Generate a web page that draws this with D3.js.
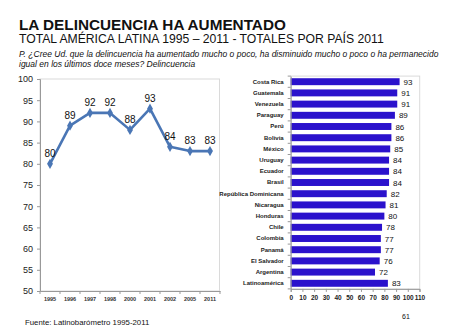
<!DOCTYPE html>
<html>
<head>
<meta charset="utf-8">
<script src="https://cdn.jsdelivr.net/npm/d3@7"></script>
<style>
  body { margin: 0; background: #fff; }
  svg { font-family: "Liberation Sans", Arial, sans-serif; }
</style>
</head>
<body>
<svg id="chart" width="460" height="330"></svg>
<script>
// trend 1995-2011
const years = ['1995', '1996', '1997', '1998', '2000', '2001', '2002', '2005', '2011'];
const totals = [80, 89, 92, 92, 88, 93, 84, 83, 83];
const yTicks = [50, 55, 60, 65, 70, 75, 80, 85, 90, 95, 100];

// countries 2011
const countries = ['Costa Rica', 'Guatemala', 'Venezuela', 'Paraguay', 'Perú', 'Bolivia', 'México',
  'Uruguay', 'Ecuador', 'Brasil', 'República Dominicana', 'Nicaragua', 'Honduras', 'Chile',
  'Colombia', 'Panamá', 'El Salvador', 'Argentina', 'Latinoamérica'];
const countryValues = [93, 91, 91, 89, 86, 86, 85, 84, 84, 84, 82, 81, 80, 78, 77, 77, 76, 72, 83];
const barTicks = [0, 10, 20, 30, 40, 50, 60, 70, 80, 90, 100, 110];

const svg = d3.select('#chart');

// titles
svg.append('text').attr('x', 19).attr('y', 29.5)
  .attr('font-size', 15.3).attr('font-weight', 'bold').attr('fill', '#111')
  .text('LA DELINCUENCIA HA AUMENTADO');
svg.append('text').attr('x', 19).attr('y', 42.5)
  .attr('font-size', 12.2).attr('fill', '#111')
  .text('TOTAL AMÉRICA LATINA 1995 – 2011 - TOTALES POR PAÍS 2011');
const q = svg.append('text').attr('font-size', 8.5).attr('font-style', 'italic').attr('fill', '#111');
q.append('tspan').attr('x', 19).attr('y', 56.5)
  .text('P. ¿Cree Ud. que la delincuencia ha aumentado mucho o poco, ha disminuido mucho o poco o ha permanecido');
q.append('tspan').attr('x', 19).attr('y', 66.5)
  .text('igual en los últimos doce meses? Delincuencia');

// ---- line chart ----
const x = d3.scaleBand().domain(years).range([40, 220]);
const y = d3.scaleLinear().domain([50, 100]).range([291, 79]);

svg.append('rect').attr('x', 40).attr('y', 79).attr('width', 179.5).attr('height', 212)
  .attr('fill', 'none').attr('stroke', '#dadada');

const yAxis = svg.append('g').attr('transform', 'translate(40,0)')
  .call(d3.axisLeft(y).tickValues(yTicks).tickSize(3).tickPadding(4));
yAxis.selectAll('text').attr('font-size', 9).attr('fill', '#222');
yAxis.select('.domain').attr('stroke', '#999');
yAxis.selectAll('.tick line').attr('stroke', '#999');

const xAxis = svg.append('g').attr('transform', 'translate(0,291)')
  .call(d3.axisBottom(x).tickSize(0).tickPadding(6));
xAxis.selectAll('text').attr('font-size', 5.5).attr('font-weight', 'bold').attr('fill', '#333');
xAxis.select('.domain').attr('stroke', '#999');
xAxis.selectAll('.sep').data(d3.range(years.length + 1)).join('line')
  .attr('x1', i => 40 + i * x.step()).attr('x2', i => 40 + i * x.step())
  .attr('y1', 0).attr('y2', 3).attr('stroke', '#999');

const cx = (d, i) => x(years[i]) + x.bandwidth() / 2;
svg.append('path').datum(totals)
  .attr('fill', 'none').attr('stroke', '#4a76b5').attr('stroke-width', 2.6)
  .attr('stroke-linejoin', 'round')
  .attr('d', d3.line().x(cx).y(d => y(d)));
svg.selectAll('.pt').data(totals).join('path')
  .attr('transform', (d, i) => `translate(${cx(d, i)},${y(d)})`)
  .attr('d', d3.symbol(d3.symbolDiamond, 30))
  .attr('fill', '#4a76b5');
svg.selectAll('.lbl').data(totals).join('text')
  .attr('x', cx).attr('y', d => y(d) - 7)
  .attr('text-anchor', 'middle').attr('font-size', 10).attr('fill', '#111')
  .text(d => d);

// ---- bar chart ----
const bx = d3.scaleLinear().domain([0, 110]).range([290.7, 419.5]);
const by = d3.scaleBand().domain(countries).range([76.1, 288.9]).paddingInner(0.38).paddingOuter(0.19);

svg.append('rect').attr('x', 290.7).attr('y', 76.1).attr('width', 129).attr('height', 212.8)
  .attr('fill', 'none').attr('stroke', '#dadada');

svg.selectAll('.bar').data(countryValues).join('rect')
  .attr('x', bx(0)).attr('y', (d, i) => by(countries[i]))
  .attr('width', d => bx(d) - bx(0)).attr('height', by.bandwidth())
  .attr('fill', '#2b12cc');
svg.selectAll('.val').data(countryValues).join('text')
  .attr('x', d => bx(d) + 4).attr('y', (d, i) => by(countries[i]) + by.bandwidth() / 2 + 3)
  .attr('font-size', 8).attr('fill', '#111')
  .text(d => d);

const byAxis = svg.append('g').attr('transform', 'translate(290.7,0)')
  .call(d3.axisLeft(by).tickSize(0).tickPadding(7));
byAxis.selectAll('text').attr('font-size', 6).attr('font-weight', 'bold').attr('fill', '#222');
byAxis.select('.domain').attr('stroke', '#999');
byAxis.selectAll('.sep').data(d3.range(countries.length + 1)).join('line')
  .attr('x1', -3).attr('x2', 0)
  .attr('y1', i => 76.1 + i * by.step()).attr('y2', i => 76.1 + i * by.step())
  .attr('stroke', '#999');

const bxAxis = svg.append('g').attr('transform', 'translate(0,288.9)')
  .call(d3.axisBottom(bx).tickValues(barTicks).tickSize(3).tickPadding(3));
bxAxis.selectAll('text').attr('font-size', 6.5).attr('font-weight', 'bold').attr('fill', '#222');
bxAxis.select('.domain').attr('stroke', '#999');
bxAxis.selectAll('.tick line').attr('stroke', '#999');

// footer
svg.append('text').attr('x', 25).attr('y', 325).attr('font-size', 7.8).attr('fill', '#111')
  .text('Fuente: Latinobarómetro 1995-2011');
svg.append('text').attr('x', 402).attr('y', 319).attr('font-size', 7).attr('fill', '#111')
  .text('61');
</script>
</body>
</html>
